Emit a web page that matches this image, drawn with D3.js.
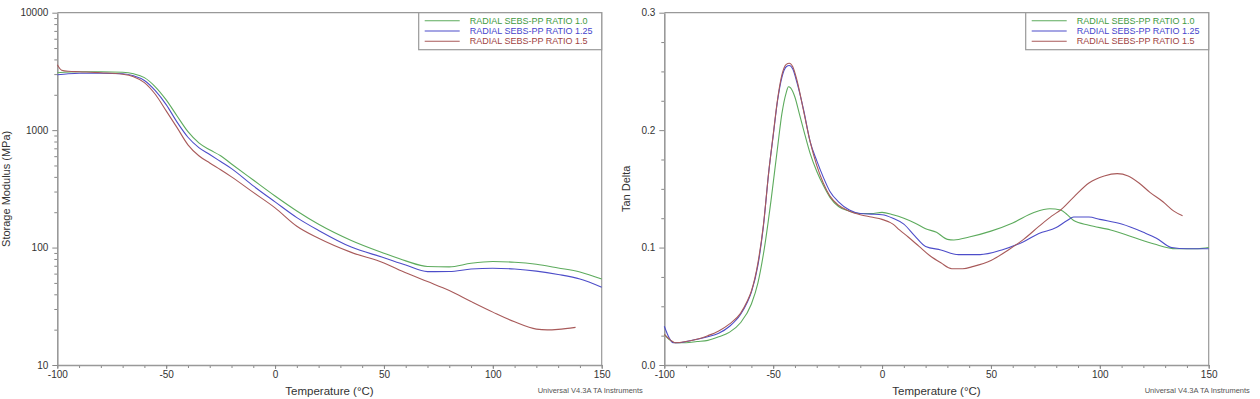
<!DOCTYPE html>
<html>
<head>
<meta charset="utf-8">
<script src="https://cdn.jsdelivr.net/npm/d3@7"></script>
<style>
  body { margin: 0; background: #fff; }
  svg { font-family: "Liberation Sans", Arial, sans-serif; }
  .tick text { fill: #333; }
</style>
</head>
<body>
<script>
// Series names and colours
const seriesNames = ['RADIAL SEBS-PP RATIO 1.0', 'RADIAL SEBS-PP RATIO 1.25', 'RADIAL SEBS-PP RATIO 1.5'];
const lineColors = ['#5dab5d', '#4d4dc9', '#a85a5a'];
const textColors = ['#3f9a3f', '#4545cc', '#a04444'];

// Tick labels
const tempTicks = [-100, -50, 0, 50, 100, 150];
const modulusTicks = [10, 100, 1000, 10000];
const tanTicks = [0, 0.1, 0.2, 0.3];

// Storage modulus (MPa) vs temperature (°C)
const modulus10 = [[-100, 3080], [-90, 3140], [-80, 3140], [-70, 3110], [-65, 3020], [-60, 2800], [-55, 2340],
  [-50, 1810], [-45, 1320], [-40, 970], [-35, 780], [-30, 680], [-25, 605], [-20, 515], [-10, 376], [0, 275],
  [10, 205], [20, 158], [35, 115], [50, 89.5], [60, 77], [70, 69], [80, 68.5], [90, 73.5], [100, 76],
  [110, 75], [120, 72], [130, 67], [140, 62], [150, 54]];
const modulus125 = [[-100, 2960], [-95, 3020], [-90, 3050], [-80, 3050], [-70, 3020], [-65, 2900], [-60, 2650],
  [-55, 2170], [-50, 1650], [-45, 1170], [-40, 870], [-35, 710], [-30, 620], [-25, 540], [-20, 470], [-10, 335],
  [0, 245], [10, 180], [20, 140], [35, 101], [50, 82], [60, 71], [70, 62.4], [80, 62.6], [90, 65.6], [100, 66.7],
  [110, 65.6], [120, 63], [130, 59], [140, 54], [150, 46]];
const modulus15 = [[-100, 3600], [-98, 3240], [-95, 3170], [-90, 3140], [-80, 3080], [-70, 2990], [-65, 2850],
  [-60, 2540], [-55, 2020], [-50, 1460], [-45, 1050], [-40, 750], [-35, 605], [-30, 525], [-25, 460], [-20, 400],
  [-10, 295], [0, 218], [10, 152], [20, 120], [35, 91], [50, 74], [60, 61], [70, 51.3], [80, 43], [90, 34.7],
  [100, 28.2], [110, 23.3], [120, 20.2], [125, 19.9], [130, 20.1], [138, 20.9]];

// Tan delta vs temperature (°C)
const tan10 = [[-100, 0.026], [-98, 0.022], [-95, 0.019], [-90, 0.019], [-85, 0.020], [-80, 0.021], [-75, 0.024],
  [-70, 0.028], [-65, 0.036], [-60, 0.052], [-57, 0.070], [-54, 0.100], [-51, 0.140], [-48, 0.185], [-46, 0.214],
  [-44, 0.232], [-43, 0.237], [-42, 0.236], [-40, 0.228], [-38, 0.214], [-36, 0.200], [-33, 0.180], [-30, 0.165],
  [-27, 0.153], [-24, 0.143], [-20, 0.135], [-15, 0.131], [-10, 0.129], [-5, 0.129], [0, 0.130], [5, 0.128],
  [10, 0.125], [15, 0.121], [20, 0.116], [25, 0.113], [30, 0.107], [33, 0.1065], [40, 0.109], [50, 0.114],
  [60, 0.121], [70, 0.130], [77, 0.133], [82, 0.132], [85, 0.128], [88, 0.123], [95, 0.119], [105, 0.115],
  [115, 0.109], [125, 0.103], [135, 0.099], [145, 0.099], [150, 0.100]];
const tan125 = [[-100, 0.033], [-98, 0.024], [-96, 0.019], [-93, 0.019], [-90, 0.020], [-85, 0.022], [-80, 0.024],
  [-75, 0.027], [-70, 0.033], [-65, 0.043], [-62, 0.053], [-60, 0.062], [-57, 0.085], [-54.5, 0.118], [-52, 0.165],
  [-50, 0.195], [-48, 0.225], [-46, 0.245], [-44, 0.254], [-42.6, 0.255], [-41, 0.252], [-39, 0.240], [-36, 0.217],
  [-33, 0.190], [-30, 0.174], [-27, 0.160], [-24, 0.148], [-20, 0.139], [-15, 0.132], [-10, 0.129], [-5, 0.1285],
  [0, 0.128], [5, 0.125], [10, 0.120], [15, 0.110], [20, 0.101], [27, 0.098], [35, 0.094], [45, 0.094],
  [55, 0.098], [65, 0.105], [72, 0.112], [80, 0.117], [85, 0.123], [88, 0.126], [95, 0.126], [100, 0.124],
  [110, 0.120], [120, 0.113], [126, 0.108], [133, 0.100], [140, 0.099], [150, 0.099]];
const tan15 = [[-100, 0.026], [-97, 0.021], [-95, 0.019], [-90, 0.020], [-85, 0.022], [-80, 0.025], [-75, 0.029],
  [-70, 0.035], [-65, 0.044], [-62, 0.054], [-60, 0.063], [-57, 0.087], [-54.5, 0.119], [-52, 0.165], [-50, 0.196],
  [-48, 0.226], [-46, 0.247], [-44, 0.256], [-42.6, 0.257], [-41, 0.254], [-39, 0.242], [-36, 0.216], [-33, 0.190],
  [-30, 0.170], [-27, 0.155], [-24, 0.144], [-20, 0.136], [-15, 0.131], [-10, 0.128], [-5, 0.126], [0, 0.124],
  [5, 0.120], [8, 0.115], [12, 0.109], [17, 0.101], [22, 0.093], [27, 0.087], [32, 0.082], [37, 0.082],
  [42, 0.084], [50, 0.089], [58, 0.098], [65, 0.107], [72, 0.118], [78, 0.127], [82, 0.132], [88, 0.143],
  [95, 0.155], [102, 0.161], [108, 0.163], [113, 0.161], [118, 0.155], [123, 0.147], [129, 0.139], [134, 0.131],
  [138, 0.127]];

const width = 1260;
const height = 399;
const plotTop = 12.7;
const plotBottom = 365;

const svg = d3.select('body')
  .append('svg')
  .attr('width', width)
  .attr('height', height);

function drawPanel(opts) {
  const x = d3.scaleLinear().domain([-100, 150]).range([opts.left, opts.right]);
  const y = opts.yScale.range([plotBottom, plotTop]);
  const g = svg.append('g');

  // minor ticks
  g.append('g')
    .attr('transform', `translate(0,${plotBottom})`)
    .call(d3.axisBottom(x).tickValues(d3.range(-100, 151, 10)).tickSize(3).tickFormat(''))
    .call(a => a.select('.domain').remove())
    .selectAll('line').attr('stroke', '#888');
  g.append('g')
    .attr('transform', `translate(${opts.left},0)`)
    .call(d3.axisLeft(y).tickValues(opts.minorY).tickSize(3).tickFormat(''))
    .call(a => a.select('.domain').remove())
    .selectAll('line').attr('stroke', '#888');

  // x axis (plain hyphen for negatives, as in the instrument plot)
  const xAxis = g.append('g')
    .attr('transform', `translate(0,${plotBottom})`)
    .call(d3.axisBottom(x).tickValues(tempTicks).tickSize(4).tickSizeOuter(0).tickPadding(2)
      .tickFormat(d => String(d)))
    .style('font-size', '10px');
  xAxis.select('.domain').attr('stroke', '#999').attr('stroke-width', 1.6);
  xAxis.selectAll('line').attr('stroke', '#888');

  // y axis
  const yAxis = g.append('g')
    .attr('transform', `translate(${opts.left},0)`)
    .call(d3.axisLeft(y).tickValues(opts.yTicks).tickSize(5).tickSizeOuter(0).tickPadding(4).tickFormat(opts.yFormat))
    .style('font-size', '10px');
  yAxis.select('.domain').attr('stroke', '#999').attr('stroke-width', 1.6);
  yAxis.selectAll('line').attr('stroke', '#888');

  // frame top and right
  g.append('path')
    .attr('d', `M${opts.left},${plotTop}H${opts.right}V${plotBottom}`)
    .attr('fill', 'none')
    .attr('stroke', '#999')
    .attr('stroke-width', 1.2);

  // curves
  const line = d3.line()
    .x(d => x(d[0]))
    .y(d => y(d[1]))
    .curve(d3.curveMonotoneX);
  g.selectAll('.curve')
    .data(opts.series)
    .enter()
    .append('path')
    .attr('class', 'curve')
    .attr('d', line)
    .attr('fill', 'none')
    .attr('stroke', (d, i) => lineColors[i])
    .attr('stroke-width', 1.1);

  // legend
  const legW = 183;
  const leg = g.append('g').attr('transform', `translate(${opts.right - legW},${plotTop})`);
  leg.append('rect')
    .attr('width', legW)
    .attr('height', 37)
    .attr('fill', '#fff')
    .attr('stroke', '#999')
    .attr('stroke-width', 1.2);
  seriesNames.forEach((name, i) => {
    const ly = 8 + i * 10.3;
    leg.append('line')
      .attr('x1', 6).attr('x2', 41)
      .attr('y1', ly).attr('y2', ly)
      .attr('stroke', lineColors[i])
      .attr('stroke-width', 1.1);
    leg.append('text')
      .attr('x', 51)
      .attr('y', ly + 3.2)
      .attr('fill', textColors[i])
      .style('font-size', '9px')
      .text(name);
  });

  // axis titles
  svg.append('text')
    .attr('x', (opts.left + opts.right) / 2)
    .attr('y', 395)
    .attr('text-anchor', 'middle')
    .attr('fill', '#333')
    .style('font-size', '11.5px')
    .text('Temperature (°C)');

  svg.append('text')
    .attr('transform', `translate(${opts.yTitleX},${(plotTop + plotBottom) / 2}) rotate(-90)`)
    .attr('text-anchor', 'middle')
    .attr('fill', '#333')
    .style('font-size', '11px')
    .text(opts.yTitle);

  svg.append('text')
    .attr('x', opts.right - 64)
    .attr('y', 393)
    .attr('fill', '#555')
    .style('font-size', '7.5px')
    .text('Universal V4.3A TA Instruments');
}

const modScale = d3.scaleLog().domain([10, 10000]);
drawPanel({
  left: 57.3,
  right: 601.7,
  yScale: modScale,
  yTicks: modulusTicks,
  minorY: modScale.ticks().filter(v => modulusTicks.indexOf(v) < 0),
  yFormat: d3.format('d'),
  yTitle: 'Storage Modulus (MPa)',
  yTitleX: 10,
  series: [modulus10, modulus125, modulus15]
});

const tanScale = d3.scaleLinear().domain([0, 0.3]);
drawPanel({
  left: 664.3,
  right: 1208.7,
  yScale: tanScale,
  yTicks: tanTicks,
  minorY: d3.range(0.025, 0.3, 0.025).filter((v, i) => i % 4 !== 3),
  yFormat: d3.format('.1f'),
  yTitle: 'Tan Delta',
  yTitleX: 630,
  series: [tan10, tan125, tan15]
});
</script>
</body>
</html>
